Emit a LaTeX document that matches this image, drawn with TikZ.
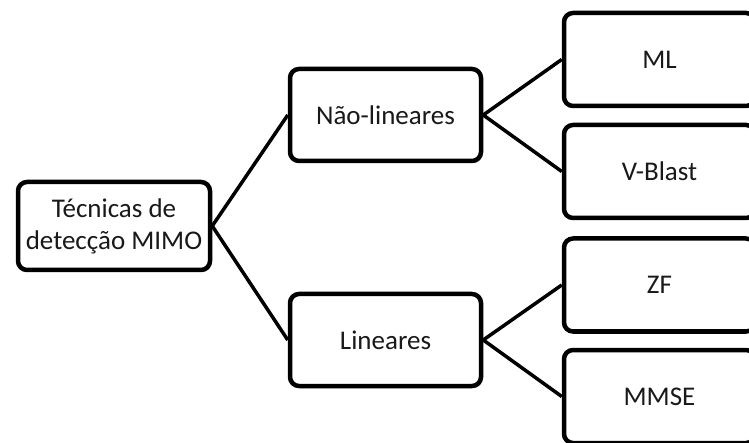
\documentclass[tikz,border=0pt]{standalone}
\usepackage{fontspec}
\setmainfont{Carlito}
\usetikzlibrary{shadows}
\begin{document}
\begin{tikzpicture}[x=1pt,y=-1pt,
  box/.style={draw=black, line width=4.5pt, rounded corners=9pt, fill=white,
    drop shadow={shadow xshift=1.5pt, shadow yshift=-2pt, opacity=0.25, fill=black},
    minimum width=191pt, minimum height=92pt, inner sep=0pt,
    align=center, text=black!90, font=\fontsize{27}{32}\selectfont},
  link/.style={draw=black, line width=3.5pt}]
\useasboundingbox (0,0) rectangle (749,443);
\clip (0,0) rectangle (749,443);
% root of the tree
\node[box, minimum width=192pt, minimum height=88pt] (root) at (114,226) {Técnicas de\\detecção MIMO};
% second level
\node[box] (nl) at (385.5,115) {Não-lineares};
\node[box] (lin) at (385.5,340) {Lineares};
% leaves
\node[box, minimum height=93pt] (ml) at (659.5,59.5) {ML};
\node[box, minimum height=93pt] (vb) at (659.5,171.5) {V-Blast};
\node[box, minimum height=93pt] (zf) at (659.5,285) {ZF};
\node[box, minimum height=93pt] (mmse) at (659.5,396.5) {MMSE};
% connectors
\draw[link] (root.east) -- (nl.west);
\draw[link] (root.east) -- (lin.west);
\draw[link] (nl.east) -- (ml.west);
\draw[link] (nl.east) -- (vb.west);
\draw[link] (lin.east) -- (zf.west);
\draw[link] (lin.east) -- (mmse.west);
\end{tikzpicture}
\end{document}
